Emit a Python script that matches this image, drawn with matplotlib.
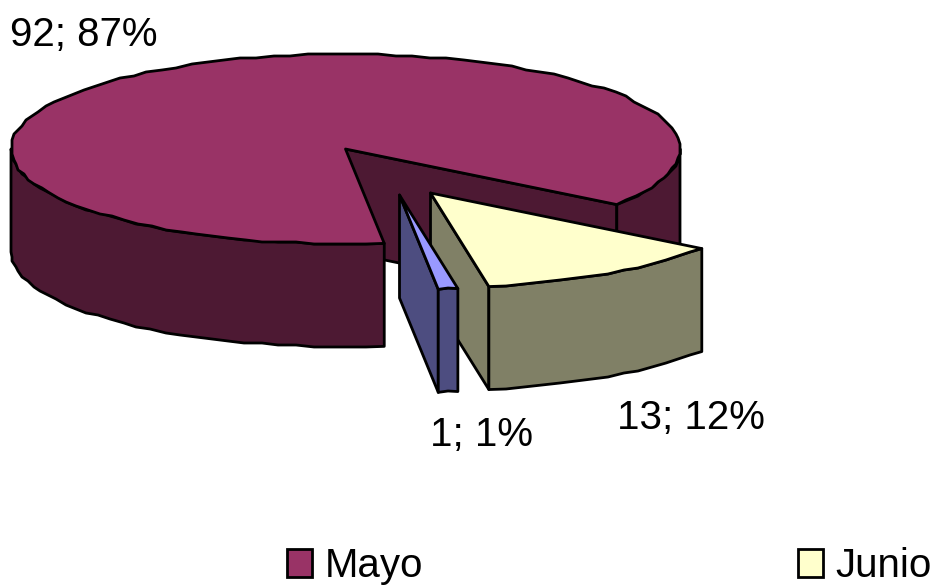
import numpy as np
import matplotlib
matplotlib.use('Agg')
import matplotlib.pyplot as plt
from matplotlib.patches import Polygon, Rectangle

plt.rcParams['font.family'] = ['Liberation Sans', 'DejaVu Sans']

# data
categories = ['Mayo', '', 'Junio']
values = [92, 1, 13]
percents = [87, 1, 12]
top_colors = ['#993366', '#9999FF', '#FFFFCC']
side_colors = ['#4D1933', '#4D4D80', '#808066']

# pie geometry in pixels
cx, cy = 345.5, 149
rx, ry = 334.5, 95
depth = 103
start = 35.8
# explode offsets (Mayo, other, Junio) and label positions
offsets = [(0, 0), (54, 46), (85, 44)]
label_pos = [(10, 46), (430, 446), (617, 429)]
legend_x = [286.5, 797.5]
lw = 2.0
fs = 29

fig = plt.figure(figsize=(9.38, 5.86), dpi=100)
ax = fig.add_axes([0, 0, 1, 1])
ax.set_xlim(0, 938)
ax.set_ylim(586, 0)
ax.axis('off')


def arc(t0, t1, dx, dy, dz=0):
    # slightly rough outline like the old office renderer
    n = max(int(abs(t1 - t0) / 3), 2)
    t = np.radians(np.linspace(t0, t1, n + 1))
    x = np.round((cx + dx + rx * np.cos(t)) / 2) * 2
    y = np.round((cy + dy + ry * np.sin(t)) / 2) * 2 + dz
    # keep exact end points so the walls meet
    x[[0, -1]] = cx + dx + rx * np.cos(t[[0, -1]])
    y[[0, -1]] = cy + dy + ry * np.sin(t[[0, -1]]) + dz
    return np.column_stack([x, y])


def poly(pts, col, z):
    ax.add_patch(Polygon(pts, closed=True, facecolor=col, edgecolor='black',
                         linewidth=lw, joinstyle='round', zorder=z))


def wedge(t0, t1, off, top, side, z):
    dx, dy = off
    apex = np.array([[cx + dx, cy + dy]])
    down = np.array([0, depth])
    # the wall at the end angle is the one turned to the viewer, rim goes over it
    e1 = arc(t1, t1, dx, dy)[:1]
    poly(np.vstack([apex, e1, e1 + down, apex + down]), side, z)
    # outer rim, front half only
    for a, b in [(t0, min(t1, 180)), (360, t1)]:
        if b > a:
            up = arc(a, b, dx, dy)
            lo = arc(a, b, dx, dy, depth)
            poly(np.vstack([up, lo[::-1]]), side, z + 0.2)
    poly(np.vstack([apex, arc(t0, t1, dx, dy)]), top, z + 0.5)


# angles from the values, Junio starts at the right then on round to Mayo
fr = np.array(values) / sum(values) * 360
t_junio = (start, start + fr[2])
t_otro = (t_junio[1], t_junio[1] + fr[1])
t_mayo = (t_otro[1], t_otro[1] + fr[0])

wedge(t_mayo[0], t_mayo[1], offsets[0], top_colors[0], side_colors[0], 1)
wedge(t_junio[0], t_junio[1], offsets[2], top_colors[2], side_colors[2], 2)
wedge(t_otro[0], t_otro[1], offsets[1], top_colors[1], side_colors[1], 3)

for i in range(3):
    ax.text(label_pos[i][0], label_pos[i][1], '%d; %d%%' % (values[i], percents[i]),
            fontsize=fs, ha='left', va='baseline', color='black', zorder=5)

# legend, the middle entry does not fit in the original
for x0, name, col in zip(legend_x, [categories[0], categories[2]], [top_colors[0], top_colors[2]]):
    ax.add_patch(Rectangle((x0, 549), 25.5, 27.5, facecolor=col, edgecolor='black',
                           linewidth=lw, zorder=5))
    ax.text(x0 + 38, 577, name, fontsize=fs, ha='left', va='baseline', color='black', zorder=5)

fig.savefig('out.png', dpi=100)
